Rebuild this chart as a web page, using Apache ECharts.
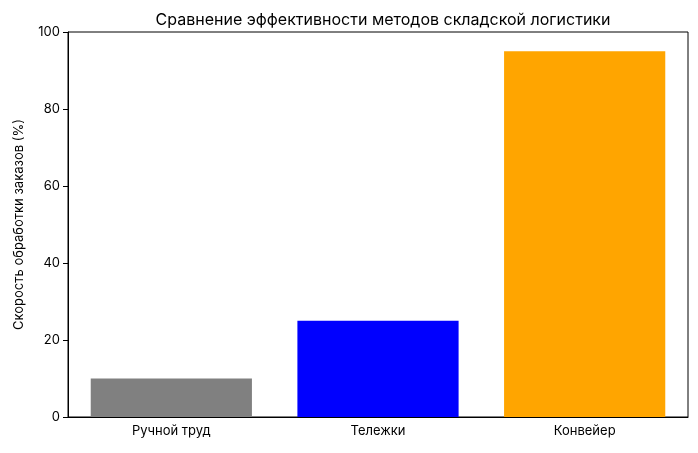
<!DOCTYPE html>
<html><head><meta charset="utf-8">
<script src="https://cdn.jsdelivr.net/npm/echarts@6/dist/echarts.min.js"></script>
<style>html,body{margin:0;padding:0;background:#fff}#c{width:698px;height:453px}</style>
</head><body><div id="c"></div>
<script>
const categories = ['Ручной труд', 'Тележки', 'Конвейер'];
const values = [10, 25, 95];
const colors = ['#808080', '#0000ff', '#ffa500'];
const chart = echarts.init(document.getElementById('c'));
const F = 'Inter, "Noto Sans", sans-serif';
chart.setOption({
  animation: false,
  title: {text: 'Сравнение эффективности методов складской логистики', left: 378, top: 7, textAlign: 'center',
    textStyle: {fontFamily: F, fontSize: 16, fontWeight: 'normal', color: '#000'}},
  grid: {left: 68, right: 10, top: 32, bottom: 36},
  xAxis: {type: 'category', data: categories,
    axisLine: {lineStyle: {color: '#000'}}, axisTick: {alignWithLabel: true, lineStyle: {color: '#000'}},
    axisLabel: {fontFamily: F, fontSize: 13, color: '#000'}},
  yAxis: {type: 'value', min: 0, max: 100, interval: 20, name: 'Скорость обработки заказов (%)',
    nameLocation: 'middle', nameGap: 42, nameTextStyle: {fontFamily: F, fontSize: 13, color: '#000'},
    axisLine: {show: true, lineStyle: {color: '#000'}}, axisTick: {show: true, lineStyle: {color: '#000'}},
    splitLine: {show: false}, axisLabel: {fontFamily: F, fontSize: 13, color: '#000'}},
  series: [{type: 'bar', barWidth: '78%',
    data: values.map((v, i) => ({value: v, itemStyle: {color: colors[i]}}))}]
});
// right/top frame
chart.setOption({graphic: [{type: 'rect', shape: {x: 68, y: 32, width: 620, height: 385}, style: {fill: 'none', stroke: '#000', lineWidth: 1}, silent: true}]});
</script></body></html>
